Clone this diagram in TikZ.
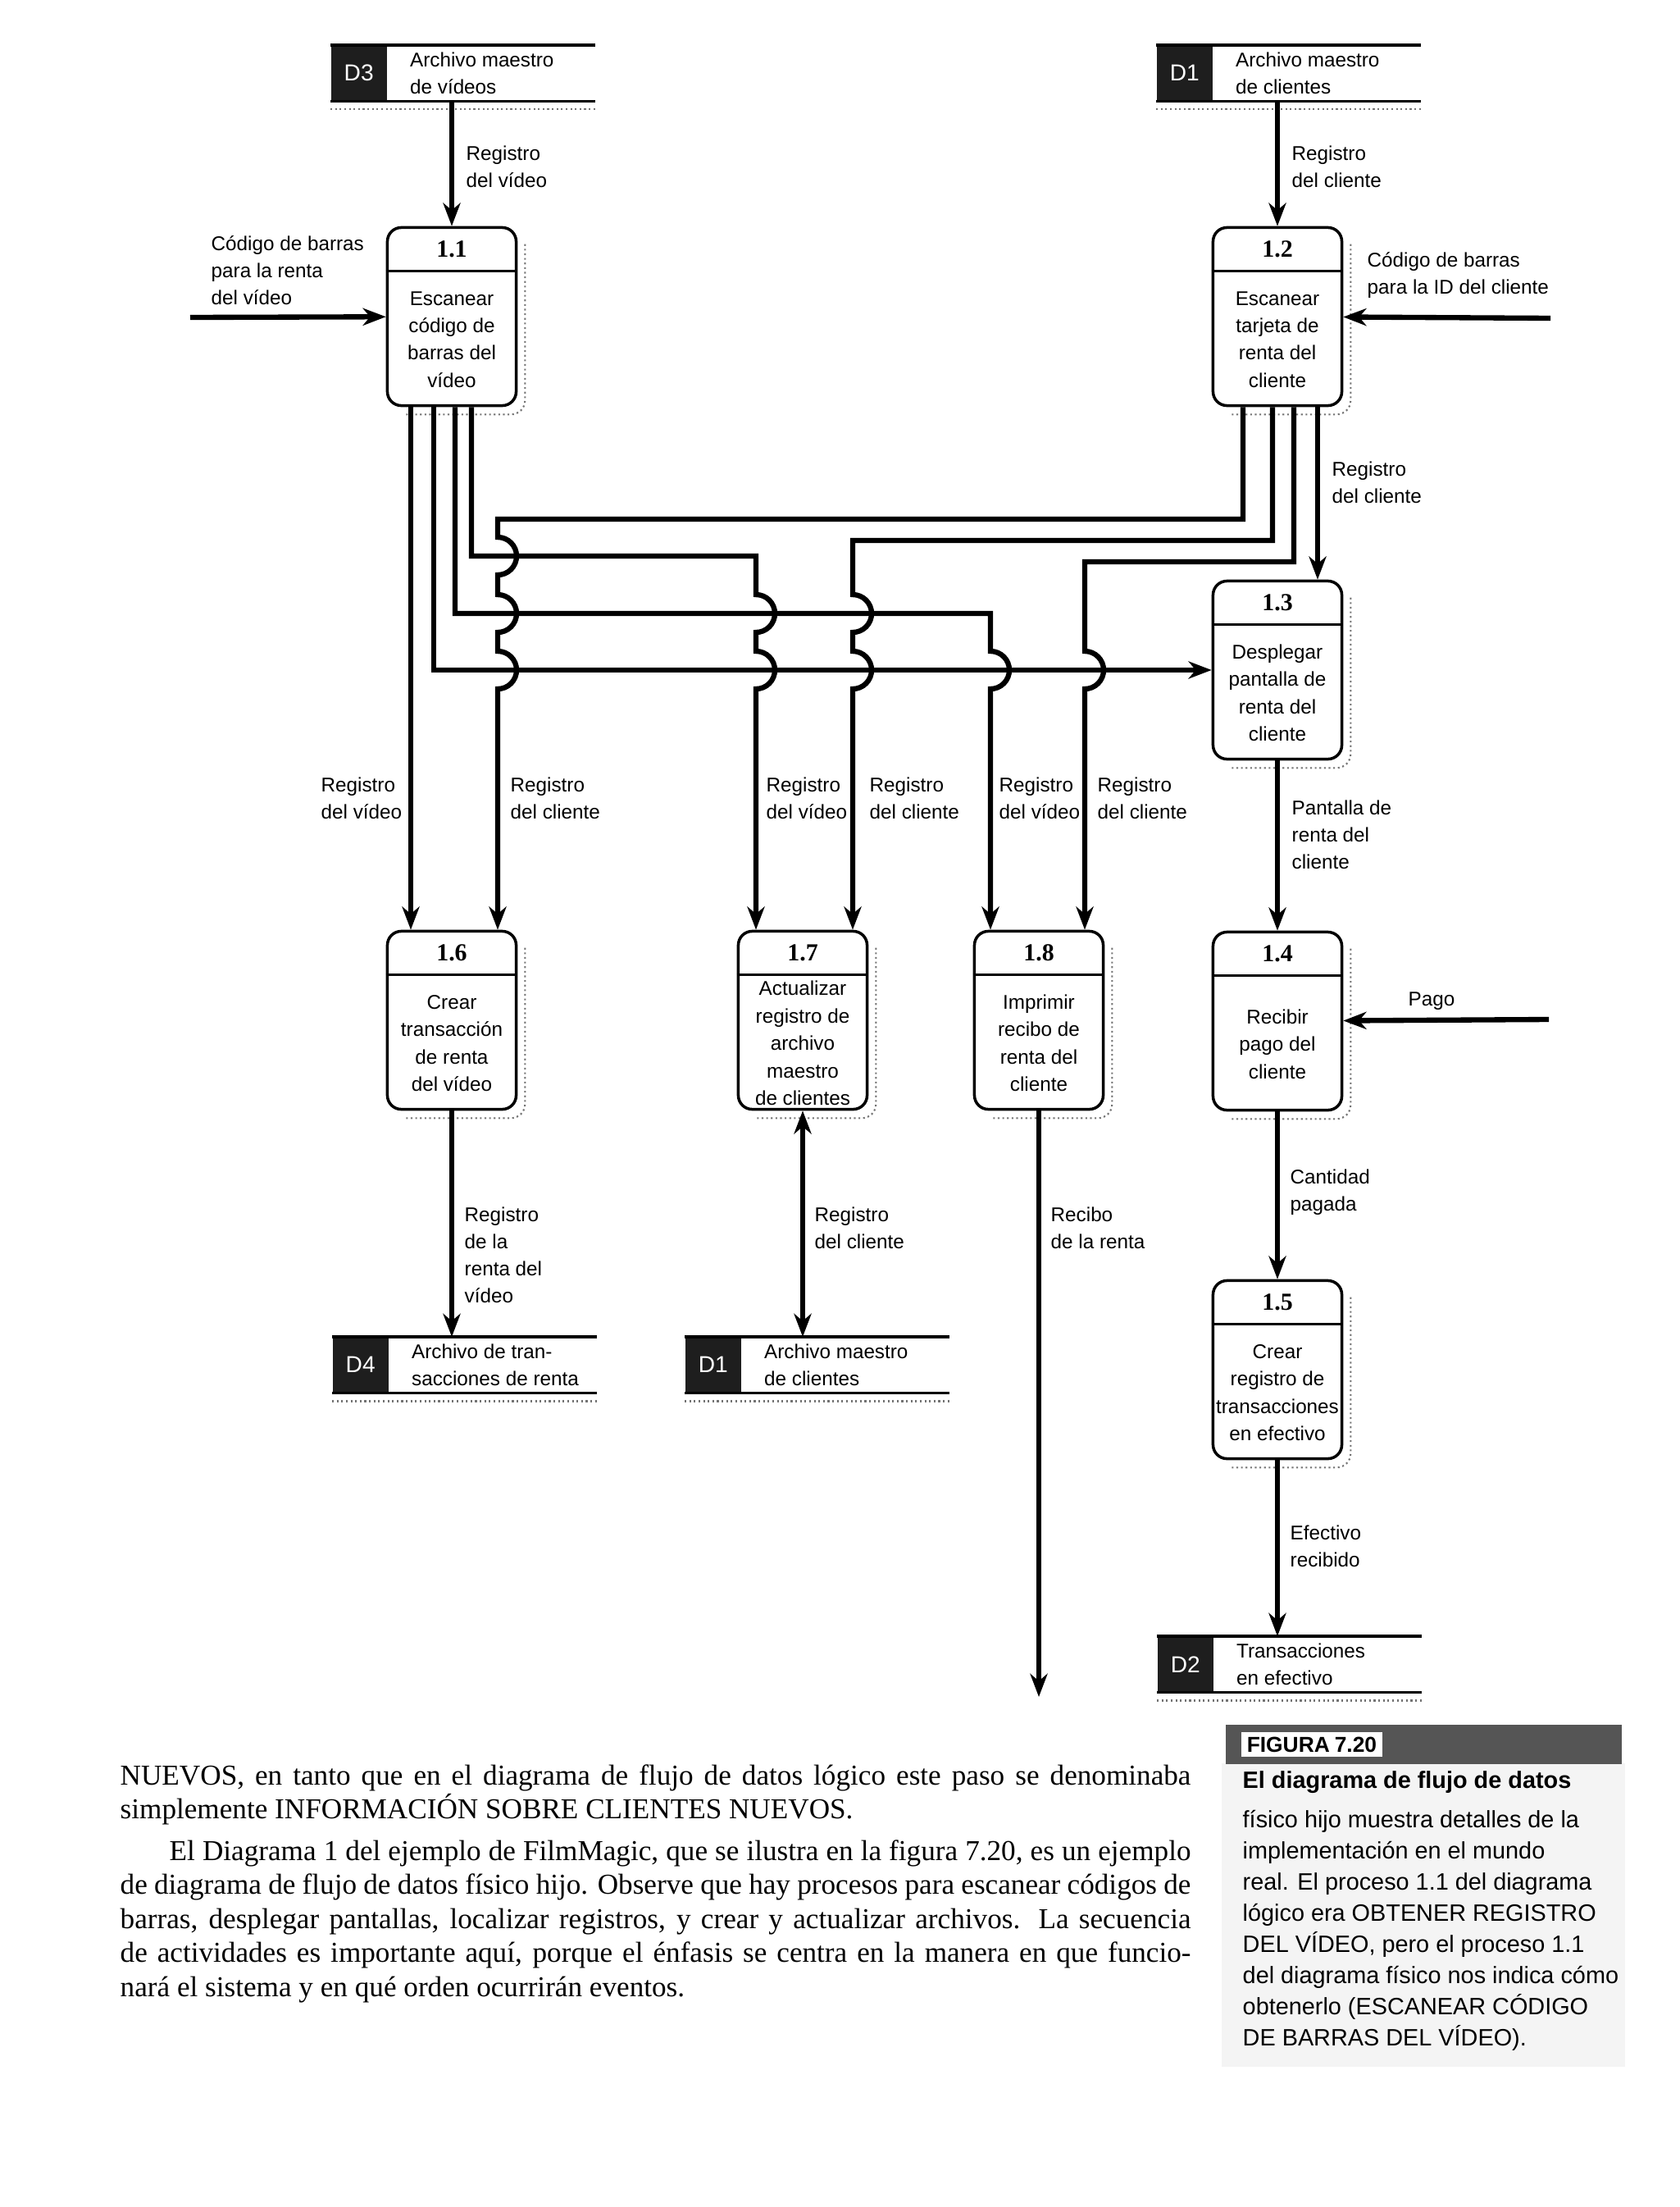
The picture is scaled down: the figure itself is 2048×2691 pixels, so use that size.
\documentclass[tikz,border=0pt]{standalone}
\usepackage{fontspec}
\setmainfont{Liberation Serif}
\setsansfont{Liberation Sans}
\usetikzlibrary{arrows.meta,calc,positioning}
\definecolor{storegray}{RGB}{30,30,30}
\definecolor{capgray}{RGB}{85,85,85}
\definecolor{stipple}{RGB}{244,244,244}

% process: name, centre, number, text
\newcommand{\procnode}[4]{%
  \node[procbox] (#1) at (#2) {};
  \draw[shadowline, rounded corners=0.17cm] ($(#1.north east)+(9,22)$) |- ($(#1.south west)+(22,9)$);
  \draw[line width=0.8pt] ($(#1.north west)+(0,55)$) -- ($(#1.north east)+(0,55)$);
  \node[procnum] (#1n) at ($(#1.north)+(0,28)$) {#3};
  \node[proctext] (#1t) at ($(#1.center)+(0,28)$) {#4};
}
% data store: name, north west corner, id, text
\newcommand{\storenode}[4]{%
  \node[storeid, anchor=north west] (#1id) at (#2) {#3};
  \node[storebody, anchor=north west] (#1) at (#1id.north east) {};
  \node[lbl] (#1t) at ([xshift=0.27cm]#1.west) {#4};
  \draw[storeline] (#1id.north west) -- (#1.north east);
  \draw[storeline] (#1id.south west) -- (#1.south east);
  \draw[shadowline] ($(#1id.south west)+(0,10)$) -- ($(#1.south east)+(0,10)$);
}

\begin{document}
\begin{tikzpicture}[x=0.01cm, y=-0.01cm,
 >={Stealth[length=8pt, width=6pt, inset=2.5pt]},
 flow/.style={->, line width=1.8pt},
 hop/.style={insert path={arc[start angle=90, end angle=-90, radius=0.23cm]}},
 procbox/.style={rectangle, draw, rounded corners=0.17cm, line width=1pt, fill=white, minimum width=1.57cm, minimum height=2.17cm, inner sep=0pt},
 procnum/.style={font=\bfseries\fontsize{8.5}{10}\selectfont, inner sep=0pt},
 proctext/.style={font=\sffamily\fontsize{6.9}{9.5}\selectfont, align=center, inner sep=0pt},
 lbl/.style={font=\sffamily\fontsize{6.9}{9.4}\selectfont, align=left, anchor=west, inner sep=0pt},
 storeid/.style={rectangle, fill=storegray, minimum width=0.68cm, minimum height=0.67cm, inner sep=0pt, text=white, font=\sffamily\fontsize{8}{9}\selectfont},
 storebody/.style={rectangle, minimum width=2.52cm, minimum height=0.67cm, inner sep=0pt},
 storeline/.style={line width=1pt},
 shadowline/.style={densely dotted, line width=0.6pt, black!55},
 bodytext/.style={font=\fontsize{10}{11.8}\selectfont, text width=13.05cm, align=justify, inner sep=0pt},
 captag/.style={fill=white, font=\sffamily\bfseries\fontsize{7.5}{9}\selectfont, inner xsep=2pt, inner ysep=1.5pt},
 captxt/.style={font=\sffamily\fontsize{8.2}{10.8}\selectfont, align=left, inner sep=0pt}
]
\useasboundingbox (0,0) rectangle (2048,2691);

% Data stores
\storenode{d3}{403,55}{D3}{Archivo maestro\\de vídeos}
\storenode{d1}{1410,55}{D1}{Archivo maestro\\de clientes}
\storenode{d4}{405,1630}{D4}{Archivo de tran-\\sacciones de renta}
\storenode{d1b}{835,1630}{D1}{Archivo maestro\\de clientes}
\storenode{d2}{1411,1995}{D2}{Transacciones\\en efectivo}

% Processes
\procnode{p11}{551,386}{1.1}{Escanear\\código de\\barras del\\vídeo}
\procnode{p12}{1558,386}{1.2}{Escanear\\tarjeta de\\renta del\\cliente}
\procnode{p13}{1558,817}{1.3}{Desplegar\\pantalla de\\renta del\\cliente}
\procnode{p14}{1558,1245}{1.4}{Recibir\\pago del\\cliente}
\procnode{p15}{1558,1670}{1.5}{Crear\\registro de\\transacciones\\en efectivo}
\procnode{p16}{551,1244}{1.6}{Crear\\transacción\\de renta\\del vídeo}
\procnode{p17}{979,1244}{1.7}{Actualizar\\registro de\\archivo\\maestro\\de clientes}
\procnode{p18}{1267,1244}{1.8}{Imprimir\\recibo de\\renta del\\cliente}

% Free ends
\coordinate (inVid) at (232,387);
\coordinate (inCli) at (1891,388);
\coordinate (inPago) at (1889,1243);
\coordinate (outRec) at (1267,2069);

% Top flows
\draw[flow] (d3.south -| p11.north) -- (p11.north);
\draw[flow] (d1.south -| p12.north) -- (p12.north);
\draw[flow] (inVid) -- (p11);
\draw[flow] (inCli) -- (p12);

% Flows out of 1.1
\draw[flow] ($(p11.south)+(-50,0)$) -- ($(p16.north)+(-50,0)$);
\draw[flow] ($(p11.south)+(-22,0)$) |- (p13.west);
\draw[flow] ($(p11.south)+(4,0)$) |- (1208,748) -- (1208,794) [hop] -- ($(p18.north)+(-59,0)$);
\draw[flow] ($(p11.south)+(24,0)$) |- (922,678) -- (922,725) [hop] -- (922,794) [hop] -- ($(p17.north)+(-57,0)$);

% Flows out of 1.2
\draw[flow] ($(p12.south)+(-42,0)$) |- (607,633) -- (607,655) [hop] -- (607,725) [hop] -- (607,794) [hop] -- ($(p16.north)+(56,0)$);
\draw[flow] ($(p12.south)+(-6,0)$) |- (1040,659) -- (1040,725) [hop] -- (1040,794) [hop] -- ($(p17.north)+(61,0)$);
\draw[flow] ($(p12.south)+(20,0)$) |- (1323,685) -- (1323,794) [hop] -- ($(p18.north)+(56,0)$);
\draw[flow] ($(p12.south)+(49,0)$) -- ($(p13.north)+(49,0)$);

% Right column
\draw[flow] (p13) -- (p14);
\draw[flow] (inPago) -- (p14);
\draw[flow] (p14) -- (p15);
\draw[flow] (p15.south) -- (p15.south |- d2.north);

% Bottom flows
\draw[flow] (p16.south) -- (p16.south |- d4.north);
\draw[<->, line width=1.8pt] (p17.south) -- (p17.south |- d1b.north);
\draw[flow] (p18) -- (outRec);

% Labels
\node[lbl] (lVid0) at (568,203) {Registro\\del vídeo};
\node[lbl] (lCli0) at (1575,203) {Registro\\del cliente};
\node[lbl] (lBarV) at (257,330) {Código de barras\\para la renta\\del vídeo};
\node[lbl] (lBarC) at (1667,336) {Código de barras\\para la ID del cliente};
\node[lbl] (lCli3) at (1624,588) {Registro\\del cliente};
\node[lbl] (lVid6) at (391,973) {Registro\\del vídeo};
\node[lbl] (lCli6) at (622,973) {Registro\\del cliente};
\node[lbl] (lVid7) at (934,973) {Registro\\del vídeo};
\node[lbl] (lCli7) at (1060,973) {Registro\\del cliente};
\node[lbl] (lVid8) at (1218,973) {Registro\\del vídeo};
\node[lbl] (lCli8) at (1338,973) {Registro\\del cliente};
\node[lbl] (lPant) at (1575,1018) {Pantalla de\\renta del\\cliente};
\node[lbl] (lPago) at (1717,1221) {Pago};
\node[lbl] (lCant) at (1573,1454) {Cantidad\\pagada};
\node[lbl] (lTrans) at (566,1530) {Registro\\de la\\renta del\\vídeo};
\node[lbl] (lCliD) at (993,1497) {Registro\\del cliente};
\node[lbl] (lRec) at (1281,1497) {Recibo\\de la renta};
\node[lbl] (lEfec) at (1573,1885) {Efectivo\\recibido};

% Body text
\node[bodytext, anchor=north west] (body) at (146,2151) {\setlength{\parskip}{2.5pt}\noindent NUEVOS, en tanto que en el diagrama de flujo de datos lógico este paso se denominaba\linebreak simplemente INFORMACIÓN SOBRE CLIENTES NUEVOS.\par
\noindent\hspace*{0.6cm}El Diagrama 1 del ejemplo de FilmMagic, que se ilustra en la figura 7.20, es un ejemplo\linebreak de diagrama de flujo de datos físico hijo. Observe que hay procesos para escanear códigos de\linebreak barras, desplegar pantallas, localizar registros, y crear y actualizar archivos. La secuencia\linebreak de actividades es importante aquí, porque el énfasis se centra en la manera en que funcio-\linebreak nará el sistema y en qué orden ocurrirán eventos.};

% Caption
\fill[stipple] (1490,2150) rectangle (1982,2520);
\node[fill=capgray, minimum width=4.83cm, minimum height=0.48cm, inner sep=0pt, anchor=north west] (capbar) at (1494,2102) {};
\node[captag, anchor=west] (capfig) at (1513,2127) {FIGURA};
\node[captag, anchor=west] (capnum) at (1620,2127) {7.20};
\node[captxt, font=\sffamily\bfseries\fontsize{8.2}{10}\selectfont, anchor=base west] (captitle) at (1515,2180) {El diagrama de flujo de datos};
\node[captxt, anchor=north west] (capbody) at (1515,2207) {físico hijo muestra detalles de la\\implementación en el mundo\\real. El proceso 1.1 del diagrama\\lógico era OBTENER REGISTRO\\DEL VÍDEO, pero el proceso 1.1\\del diagrama físico nos indica cómo\\obtenerlo (ESCANEAR CÓDIGO\\DE BARRAS DEL VÍDEO).};

\end{tikzpicture}
\end{document}
